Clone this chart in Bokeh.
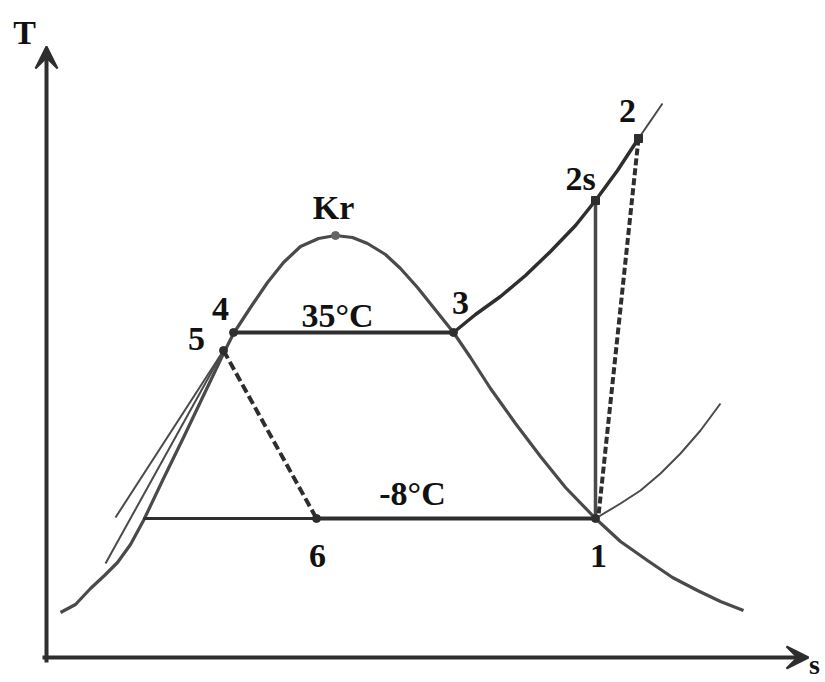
from bokeh.plotting import figure
from bokeh.models import Range1d, Arrow, VeeHead, ColumnDataSource
from bokeh.core.properties import value
from bokeh.embed import file_html
from bokeh.resources import INLINE

# Saturation dome (s, T)
dome_s = [60, 75, 90, 104, 117, 130, 143, 163, 183, 203, 223, 233, 250, 267, 283, 300, 318, 335,
          352, 367, 385, 400, 417, 433, 453, 470, 490, 515, 540, 565, 595, 620, 647, 672, 697, 720, 743]
dome_T = [70, 78, 94, 107, 120, 138, 162, 204, 245, 287, 329, 349, 375, 400, 420, 436, 444, 447,
          445, 439, 428, 414, 395, 375, 350, 325, 294, 259, 226, 195, 164, 141, 122, 105, 92, 81, 72]

# High-pressure isobar in superheated region (3 -> 2s -> 2) and its continuation
hp_s = [453, 475, 500, 525, 550, 575, 595, 617, 638]
hp_T = [350, 368, 386, 407, 431, 457, 482, 512, 544]
hp_ext_s = [638, 662]
hp_ext_T = [544, 579]

# Low-pressure isobar in superheated region from point 1
lp_s = [595, 620, 640, 660, 680, 700, 720]
lp_T = [164, 179, 192, 209, 229, 252, 279]

# Cycle state points
pt_names = ["1", "2s", "2", "3", "4", "5", "6"]
pt_s = [595, 595, 638, 453, 233, 223, 316]
pt_T = [164, 482, 544, 350, 350, 332, 164]
kr_s, kr_T = 335, 447
left_sat_s = 143  # saturated liquid at -8°C

# Thin subcooled lines from point 5
sub1_s = [115, 223]
sub1_T = [165, 332]
sub2_s = [105, 223]
sub2_T = [119, 332]

# Labels
lab_text = ["Kr", "4", "5", "35°C", "3", "2s", "2", "-8°C", "6", "1"]
lab_s = [333, 220, 196, 337, 460, 580, 627, 412, 317, 598]
lab_T = [475, 374, 344, 367, 380, 504, 572, 189, 127, 127]

P = dict(zip(pt_names, zip(pt_s, pt_T)))

p = figure(width=825, height=682, output_backend="svg", toolbar_location=None,
           x_range=Range1d(0, 825), y_range=Range1d(0, 682),
           x_axis_type=None, y_axis_type=None, min_border=0)
p.grid.visible = False
p.outline_line_color = None
p.background_fill_color = "white"

dark = "#2e2e2e"
gray = "#4a4a4a"

# axes with arrows
p.add_layout(Arrow(end=VeeHead(size=22, fill_color=dark, line_color=dark, line_width=2),
                   x_start=46, y_start=20, x_end=46, y_end=636,
                   line_width=4, line_color=dark))
p.add_layout(Arrow(end=VeeHead(size=22, fill_color=dark, line_color=dark, line_width=2),
                   x_start=42, y_start=25, x_end=808, y_end=25,
                   line_width=4, line_color=dark))

# dome
p.line(dome_s, dome_T, line_width=3.2, line_color=gray)

# thin subcooled lines
p.line(sub1_s, sub1_T, line_width=2, line_color=gray)
p.line(sub2_s, sub2_T, line_width=2, line_color=gray)

# low pressure isobar (superheated)
p.line(lp_s, lp_T, line_width=2, line_color=gray)

# high pressure isobar
p.line(hp_s, hp_T, line_width=3.5, line_color=dark)
p.line(hp_ext_s, hp_ext_T, line_width=2, line_color=gray)

# condensation 4-3
p.line([P["4"][0], P["3"][0]], [P["4"][1], P["3"][1]], line_width=4, line_color=dark)

# evaporation: saturated liquid -> 6 (thinner), 6 -> 1 (thick)
p.line([left_sat_s, P["6"][0]], [P["6"][1], P["6"][1]], line_width=3, line_color=dark)
p.line([P["6"][0], P["1"][0]], [P["6"][1], P["1"][1]], line_width=4, line_color=dark)

# isentropic compression 1 -> 2s
p.line([P["1"][0], P["2s"][0]], [P["1"][1], P["2s"][1]], line_width=3.5, line_color=gray)

# real compression 1 -> 2 (dashed)
p.line([P["2"][0], P["1"][0] + 3], [P["2"][1], P["1"][1] + 3], line_width=4,
       line_color=dark, line_dash="7 3")

# throttling 5 -> 6 (dashed)
p.line([P["5"][0], P["6"][0]], [P["5"][1], P["6"][1]], line_width=4,
       line_color=dark, line_dash="9 4")

# points
p.scatter([P[k][0] for k in ["1", "3", "4", "5", "6"]],
          [P[k][1] for k in ["1", "3", "4", "5", "6"]],
          size=8, color=dark)
p.scatter([P["2s"][0], P["2"][0]], [P["2s"][1], P["2"][1]], marker="square", size=8, color=dark)
p.scatter([kr_s], [kr_T], size=8, color="#666666")

# labels
src = ColumnDataSource(dict(x=lab_s, y=lab_T, t=lab_text))
p.text(x="x", y="y", text="t", source=src, text_font=value("Liberation Serif"),
       text_font_style="bold", text_font_size="34px", text_align="center",
       text_baseline="middle", text_color="#111111")

p.text(x=[24], y=[650], text=["T"], text_font=value("Liberation Serif"),
       text_font_style="bold", text_font_size="34px", text_align="center",
       text_baseline="middle", text_color="#111111")
p.text(x=[814], y=[18], text=["s"], text_font=value("Liberation Serif"),
       text_font_style="bold", text_font_size="28px", text_align="center",
       text_baseline="middle", text_color="#111111")

open("out.html", "w").write(file_html(p, INLINE))
